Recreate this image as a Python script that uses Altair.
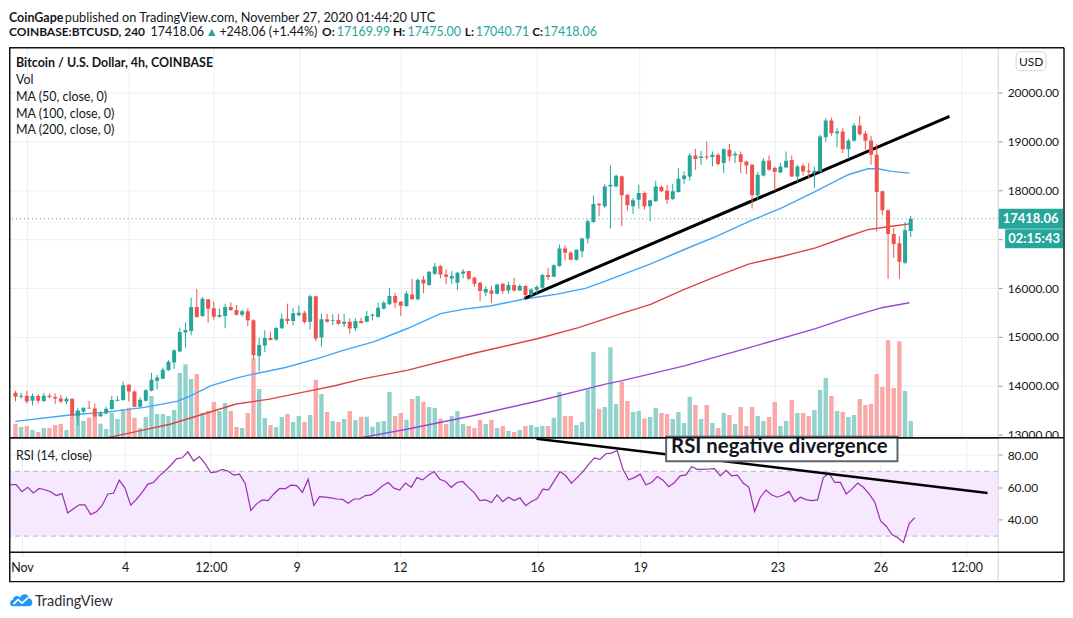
import altair as alt
import pandas as pd

# ---------------- data (4h candles, Oct 31 16:00 -> Nov 27 00:00 UTC) ----------------
opens = [13857, 13775, 13796, 13694, 13789, 13687, 13796, 13769, 13741, 13680,
         13735, 13374, 13476, 13551, 13537, 13374, 13435, 13524, 13694, 13707,
         14020, 13884, 13571, 13694, 13898, 14102, 14143, 14320, 14476, 14701,
         15088, 15122, 15612, 15429, 15769, 15585, 15415, 15429, 15612, 15551,
         15456, 15524, 15340, 14612, 14823, 14980, 14946, 15177, 15374, 15327,
         15442, 15497, 15313, 15830, 14986, 15361, 15333, 15347, 15272, 15313,
         15177, 15326, 15313, 15435, 15408, 15578, 15667, 15836, 15721, 15632,
         15870, 15769, 16177, 16061, 16292, 16449, 16279, 16197, 16109, 16292,
         16347, 16211, 16109, 15911, 15952, 15884, 16088, 15952, 16061, 15952,
         16041, 15857, 15966, 16007, 16265, 16231, 16449, 16809, 16721, 16578,
         16755, 17013, 17354, 17728, 17673, 18081, 18081, 18286, 17911, 17673,
         17809, 17946, 17673, 17775, 18068, 17993, 17823, 17966, 18231, 18285,
         18714, 18660, 18693, 18680, 18728, 18558, 18830, 18714, 18741, 18592,
         18523, 17898, 18306, 18612, 18455, 18367, 18469, 18619, 18285, 18503,
         18401, 18353, 18387, 19088, 19428, 19170, 19204, 18843, 19013, 19326,
         19163, 19020, 18728, 17979, 17591, 17108, 16918, 16517, 17169.99]
highs = [13898, 13857, 13898, 13844, 13830, 13857, 13844, 13844, 13816, 13775,
         13741, 13544, 13558, 13694, 13639, 13476, 13571, 13796, 13789, 14088,
         14034, 13911, 13762, 13932, 14265, 14224, 14374, 14524, 14742, 15190,
         15299, 15803, 15980, 15816, 15769, 15721, 15585, 15680, 15708, 15653,
         15558, 15585, 15361, 14986, 15136, 15109, 15204, 15476, 15680, 15585,
         15646, 15531, 15864, 15830, 15476, 15476, 15463, 15476, 15476, 15381,
         15381, 15394, 15530, 15476, 15701, 15734, 16007, 15905, 15734, 15938,
         16190, 16197, 16245, 16347, 16517, 16469, 16381, 16347, 16333, 16388,
         16347, 16238, 16129, 16034, 16048, 16088, 16102, 16129, 16211, 16075,
         16061, 15993, 16054, 16292, 16415, 16483, 16891, 16877, 16755, 16796,
         17027, 17401, 17898, 17741, 18129, 18510, 18320, 18299, 17925, 17843,
         18116, 17979, 17809, 18197, 18102, 18115, 18129, 18455, 18387, 18762,
         18850, 18809, 19000, 18796, 18762, 18864, 18952, 18796, 18796, 18605,
         18537, 18374, 18660, 18714, 18489, 18558, 18796, 18714, 18523, 18544,
         18558, 18489, 19136, 19476, 19489, 19272, 19272, 19054, 19374, 19523,
         19217, 19115, 18945, 17993, 17605, 17231, 17061, 17353, 17475.00]
lows = [13680, 13735, 13639, 13599, 13639, 13667, 13748, 13626, 13639, 13626,
        13354, 13190, 13435, 13531, 13354, 13367, 13422, 13503, 13680, 13694,
        13680, 13558, 13558, 13680, 13884, 13925, 14129, 14306, 14347, 14687,
        14782, 15034, 15395, 15408, 15293, 15354, 15395, 15177, 15531, 15435,
        15415, 15224, 14544, 14292, 14687, 14932, 14918, 15163, 15259, 15238,
        15422, 15272, 15150, 14918, 14803, 15293, 15245, 15245, 15204, 15068,
        15122, 15272, 15299, 15340, 15394, 15564, 15653, 15598, 15428, 15612,
        15762, 15748, 15898, 16048, 16265, 16197, 16075, 16088, 15959, 16197,
        16156, 16020, 15734, 15836, 15694, 15870, 15884, 15891, 15925, 15938,
        15802, 15789, 15884, 15993, 16163, 16224, 16435, 16564, 16571, 16564,
        16632, 16911, 17333, 17469, 17639, 17218, 18061, 17265, 17585, 17517,
        17626, 17605, 17367, 17762, 17966, 17721, 17802, 17952, 18129, 18197,
        18421, 18523, 18626, 18489, 18510, 18353, 18592, 18558, 18353, 18333,
        17626, 17809, 18285, 18401, 17993, 18353, 18469, 18272, 18183, 18306,
        18238, 18047, 18374, 18986, 19115, 18877, 18762, 18646, 19000, 19122,
        18830, 18523, 17163, 17489, 16190, 16619, 16190, 16496, 17040.71]
closes = [13775, 13796, 13680, 13789, 13694, 13796, 13769, 13741, 13680, 13735,
          13374, 13490, 13551, 13537, 13374, 13435, 13531, 13707, 13714, 14013,
          13884, 13571, 13714, 13911, 14122, 14170, 14327, 14490, 14728, 15102,
          15143, 15612, 15408, 15782, 15578, 15415, 15449, 15612, 15551, 15456,
          15524, 15340, 14626, 14837, 14980, 14939, 15184, 15374, 15327, 15483,
          15497, 15306, 15830, 14966, 15361, 15313, 15347, 15272, 15313, 15170,
          15327, 15286, 15428, 15456, 15598, 15701, 15836, 15701, 15639, 15891,
          15769, 16170, 16095, 16333, 16442, 16279, 16231, 16245, 16313, 16340,
          16190, 16088, 15938, 15980, 15884, 16075, 15938, 16061, 15952, 16041,
          15857, 15973, 16020, 16265, 16224, 16469, 16809, 16721, 16578, 16782,
          17013, 17367, 17721, 17694, 18081, 18116, 18299, 17898, 17694, 17796,
          17946, 17673, 17796, 18081, 17979, 17809, 17979, 18238, 18306, 18714,
          18639, 18693, 18673, 18728, 18537, 18843, 18693, 18748, 18578, 18510,
          17898, 18319, 18605, 18421, 18374, 18489, 18605, 18285, 18489, 18387,
          18374, 18401, 19102, 19428, 19170, 19204, 18843, 19020, 19326, 19149,
          19013, 18728, 17966, 17591, 17108, 16904, 16537, 17183, 17418.06]
volumes = [1400, 1070, 1170, 770, 570, 970, 970, 1270, 1370, 770,
           2070, 2730, 1670, 2000, 2330, 1400, 870, 2500, 1870, 2870,
           3000, 2000, 970, 2070, 4170, 2370, 2370, 2170, 2770, 6470,
           7370, 5870, 6370, 2500, 2670, 3570, 2670, 3470, 2670, 1070,
           970, 2470, 7970, 4870, 1970, 1270, 1070, 2070, 2370, 1570,
           2170, 1570, 2270, 5800, 4370, 2570, 1670, 1570, 1870, 2670,
           1770, 2100, 2100, 1100, 1570, 1670, 4570, 2170, 2470, 1800,
           3870, 4170, 3570, 3070, 2970, 1900, 1370, 2170, 2670, 1370,
           1170, 970, 1800, 1370, 1800, 970, 1170, 670, 570, 770,
           1170, 1270, 1070, 1170, 1170, 2000, 4570, 2170, 2170, 1270,
           1570, 4830, 8600, 2900, 3070, 9070, 3370, 5600, 3670, 2570,
           2670, 1930, 2070, 3000, 2470, 2370, 1870, 2570, 1470, 4070,
           3270, 1870, 3270, 1470, 970, 2470, 2270, 1370, 3070, 1170,
           3070, 2170, 1670, 2070, 3570, 1170, 1670, 3770, 2470, 2470,
           2170, 2770, 4770, 5970, 4170, 2670, 2570, 2070, 2270, 3870,
           3270, 3370, 6370, 5070, 9770, 4970, 9670, 4670, 1670]
rsi_values = [61.7, 61.7, 57.4, 60.1, 56.6, 59.4, 58.6, 57.4, 55.0, 56.2,
              44.2, 46.9, 49.3, 49.3, 43.4, 45.0, 48.9, 56.0, 56.4, 64.5,
              59.6, 49.1, 52.7, 57.0, 62.1, 63.1, 67.2, 70.2, 73.7, 77.7,
              78.3, 82.0, 76.3, 79.1, 74.7, 69.2, 69.6, 71.2, 70.2, 67.6,
              68.2, 62.5, 45.8, 49.9, 52.3, 51.9, 56.0, 59.4, 59.2, 61.5,
              61.1, 57.0, 65.1, 48.9, 54.4, 54.0, 53.6, 52.9, 52.7, 50.3,
              52.9, 52.9, 55.0, 55.4, 58.0, 61.1, 63.1, 59.6, 58.4, 62.7,
              60.1, 66.1, 64.7, 67.6, 69.8, 65.1, 63.7, 60.1, 63.1, 63.7,
              60.1, 56.8, 51.9, 52.3, 50.7, 55.4, 51.3, 54.0, 51.9, 53.6,
              48.8, 51.3, 53.0, 59.0, 58.6, 64.1, 69.8, 67.2, 62.7, 66.1,
              69.8, 74.3, 78.3, 77.3, 80.8, 81.2, 82.8, 71.2, 64.7, 66.1,
              68.2, 61.7, 63.1, 66.8, 64.5, 60.5, 63.1, 67.2, 67.8, 72.8,
              71.2, 71.2, 71.4, 71.6, 67.2, 70.6, 67.2, 67.6, 62.7, 60.1,
              45.2, 54.0, 58.4, 55.4, 54.0, 55.4, 57.6, 51.3, 54.0, 52.5,
              51.9, 52.3, 66.1, 68.8, 63.1, 63.1, 56.0, 59.0, 62.7, 60.1,
              56.0, 50.9, 39.3, 36.1, 31.0, 29.0, 26.1, 37.7, 41.4]

# moving averages (days since Nov 1 00:00 UTC, value)
ma50_day = [-0.34, 1.33, 2.29, 3.46, 4.41, 4.82, 5.40, 6.16, 6.65, 7.61, 8.59, 9.26, 10.22,
            11.21, 12.17, 12.83, 13.62, 14.63, 15.56, 16.43, 17.02, 17.48, 18.35, 19.34,
            20.30, 21.25, 22.24, 23.20, 24.16, 24.74, 25.03, 25.44, 25.96]
ma50_val = [13272, 13408, 13456, 13558, 13680, 13796, 14000, 14156, 14238, 14374, 14565, 14714, 14904,
            15177, 15476, 15564, 15632, 15775, 15870, 15993, 16143, 16265, 16496, 16789,
            17061, 17367, 17653, 17979, 18319, 18442, 18442, 18387, 18353]
ma100_day = [2.38, 3.25, 4.24, 5.20, 6.16, 7.14, 8.10, 9.06, 9.84, 11.21, 13.12, 15.07,
             16.23, 17.48, 18.35, 19.34, 20.30, 21.25, 22.24, 23.20, 24.16, 24.74, 25.44, 25.96]
ma100_val = [12940, 13068, 13218, 13422, 13626, 13728, 13864, 14000, 14136, 14320, 14660, 14973,
             15190, 15476, 15666, 15972, 16244, 16496, 16652, 16823, 17061, 17197, 17265, 17313]
ma200_day = [9.84, 11.21, 13.12, 15.07, 17.02, 17.48, 19.34, 21.25, 23.20, 24.16, 25.15, 25.96]
ma200_val = [12940, 13115, 13387, 13694, 14034, 14101, 14408, 14782, 15170, 15394, 15598, 15700]

trend_day = [14.64, 27.14]
trend_price = [15789, 19516]
rsi_trend_day = [14.98, 28.115]
rsi_trend_val = [90.1, 56.6]

tick_days = [0, 3, 5.5, 8, 11, 15, 18, 22, 25, 27.5]
price_ticks = [13000, 14000, 15000, 16000, 17000, 18000, 19000, 20000]
rsi_ticks = [40, 60, 80]
rsi_levels = [30, 70]
last_price = 17418.06

# ---------------- styling ----------------
FONT = "Lato"
TXT = "#131722"
UP, DOWN = "#26a69a", "#ef5350"
VUP, VDOWN = "#92d2cc", "#f8a9a8"
GRID = "#eceff3"
FRAME = "#111111"
SEP = "#d1d4dc"
W, PH, RH = 992, 391, 115
FR = 1058
BOT = 144.4

n = len(opens)
times = pd.date_range("2020-10-31 16:00", periods=n, freq="4h")
day = list((times - pd.Timestamp("2020-11-01")) / pd.Timedelta(days=1))
candles = pd.DataFrame({"day": day, "open": opens, "high": highs, "low": lows,
                        "close": closes, "volume": volumes, "rsi": rsi_values})

xs = alt.Scale(domain=[-0.3775, 28.426], nice=False, zero=False)
ps = alt.Scale(domain=[12938.8, 20918.4], nice=False, zero=False)
vs = alt.Scale(domain=[0, 39100], nice=False)
rs = alt.Scale(domain=[20, 90.75], nice=False, zero=False)

updown = alt.condition("datum.close >= datum.open", alt.value(UP), alt.value(DOWN))
vol_updown = alt.condition("datum.close >= datum.open", alt.value(VUP), alt.value(VDOWN))

x_price = alt.X("day:Q", scale=xs, axis=alt.Axis(values=tick_days, labels=False, ticks=False,
                                                   domain=False, grid=True, gridColor=GRID, title=None))
price_axis = alt.Axis(orient="right", values=price_ticks,
                      labelExpr="datum.value == 17000 ? '' : format(datum.value, '.2f')",
                      grid=True, gridColor=GRID, domain=False, ticks=True, tickSize=4,
                      tickColor="#9598a1", labelPadding=5, labelFont=FONT, labelFontSize=12,
                      labelColor=TXT, labelFlush=False, labelOverlap=False, title=None)


def py(field):
    return alt.Y(field, scale=ps, axis=price_axis)


ONE = pd.DataFrame({"k": [0]})


def label(text, x, y, size=12.5, weight="normal", color=TXT, align="left", baseline="alphabetic"):
    return alt.Chart(ONE).mark_text(text=text, align=align, baseline=baseline, font=FONT,
                                    fontSize=size, fontWeight=weight, color=color).encode(
        x=alt.value(x), y=alt.value(y))


def hline(y, x0, x1, color=FRAME, w=1.5):
    return alt.Chart(ONE).mark_rule(color=color, strokeWidth=w).encode(
        x=alt.value(x0), x2=alt.value(x1), y=alt.value(y))


def vline(x, y0, y1, color=FRAME, w=1.5):
    return alt.Chart(ONE).mark_rule(color=color, strokeWidth=w).encode(
        x=alt.value(x), y=alt.value(y0), y2=alt.value(y1))


# ---------------- price pane ----------------
vol = alt.Chart(candles).mark_bar(size=4.4, clip=True).encode(
    x=x_price, y=alt.Y("volume:Q", scale=vs, axis=None), color=vol_updown)


def ma_layer(days, vals, color):
    df = pd.DataFrame({"day": days, "value": vals})
    return alt.Chart(df).mark_line(color=color, strokeWidth=1.4, clip=True).encode(
        x=x_price, y=py("value:Q"))


ma50 = ma_layer(ma50_day, ma50_val, "#42a5f5")
ma100 = ma_layer(ma100_day, ma100_val, "#db4444")
ma200 = ma_layer(ma200_day, ma200_val, "#9c47d4")

trend = alt.Chart(pd.DataFrame({"day": trend_day, "price": trend_price})).mark_line(
    color="black", strokeWidth=3).encode(x=x_price, y=py("price:Q"))

wick = alt.Chart(candles).mark_rule(strokeWidth=1, clip=True).encode(
    x=x_price, y=py("low:Q"), y2="high:Q", color=updown)
body = alt.Chart(candles).mark_bar(size=4, clip=True).encode(
    x=x_price, y=py("open:Q"), y2="close:Q", color=updown)

last_df = pd.DataFrame({"price": [last_price]})
last_line = alt.Chart(last_df).mark_rule(color=UP, strokeDash=[1, 3], strokeWidth=1).encode(y=py("price:Q"))
tag1 = alt.Chart(last_df).mark_rect(color=UP, yOffset=-10, y2Offset=10).encode(
    x=alt.value(992), x2=alt.value(1057), y=py("price:Q"), y2="price:Q")
tag1_txt = alt.Chart(last_df).mark_text(align="center", baseline="middle", color="white",
                                        font=FONT, fontSize=13, fontWeight="bold").encode(
    x=alt.value(1024.5), y=py("price:Q"), text=alt.Text("price:Q", format=".2f"))
tag2 = alt.Chart(last_df).mark_rect(color=UP, yOffset=10.5, y2Offset=29.5).encode(
    x=alt.value(999), x2=alt.value(1057), y=py("price:Q"), y2="price:Q")
tag2_txt = alt.Chart(last_df).mark_text(align="center", baseline="middle", color="white", dy=20,
                                        font=FONT, fontSize=13, fontWeight="bold").encode(
    x=alt.value(1028), y=py("price:Q"), text=alt.value("02:15:43"))

usd_box = alt.Chart(ONE).mark_rect(fill="white", stroke=SEP, strokeWidth=1, cornerRadius=4).encode(
    x=alt.value(1010), x2=alt.value(1040), y=alt.value(4), y2=alt.value(23))
usd_txt = label("USD", 1025, 18, size=12, align="center")

H1, H2 = -26.3, -11.3
header = [
    hline(-38.7, 0, 4, color="white", w=0.5),   # head-room so the header text is not cropped
    label("CoinGape", 0, H1, weight="bold"),
    label("published on TradingView.com, November 27, 2020 01:44:20 UTC", 56, H1, size=12.8),
    label("COINBASE:BTCUSD, 240", 0, H2, size=12, weight="bold"),
    label("17418.06", 142, H2),
    label("\u25B2", 197, H2, size=12.5, color=UP),
    label("+248.06 (+1.44%)", 211, H2),
    label("O:", 314, H2, size=12, weight="bold"),
    label("17169.99", 328.7, H2, color=UP),
    label("H:", 385, H2, size=12, weight="bold"),
    label("17475.00", 399.7, H2, color=UP),
    label("L:", 457, H2, size=12, weight="bold"),
    label("17040.71", 468, H2, color=UP),
    label("C:", 524.7, H2, size=12, weight="bold"),
    label("17418.06", 536, H2, color=UP),
]
legend = [
    label("Bitcoin / U.S. Dollar, 4h, COINBASE", 7, 19.7, weight="bold"),
    label("Vol", 7, 36.7),
    label("MA (50, close, 0)", 7, 53.3),
    label("MA (100, close, 0)", 7, 70.3),
    label("MA (200, close, 0)", 7, 87.0),
]
price_frame = [
    vline(992, 0, PH, color=SEP, w=1),
    hline(0, 0, FR), vline(0.75, 0, PH), vline(FR, 0, PH), hline(PH, 0, FR),
]

inner = alt.layer(ma200, ma100, ma50, trend, wick, body, last_line, tag1, tag1_txt, tag2, tag2_txt,
                  usd_box, usd_txt, *header, *legend, *price_frame)
price = alt.layer(vol, inner).resolve_scale(y="independent").properties(width=W, height=PH)

# ---------------- RSI pane ----------------
x_rsi = alt.X("day:Q", scale=xs, axis=alt.Axis(
    values=tick_days,
    labelExpr="datum.value == 0 ? 'Nov' : (datum.value % 1 != 0 ? '12:00' : format(datum.value + 1, 'd'))",
    grid=True, gridColor=GRID, domain=False, ticks=True, tickSize=4, tickColor="#dfe2e8",
    labelPadding=5, labelFont=FONT, labelFontSize=12.5, labelColor=TXT,
    labelFlush=False, labelOverlap=False, title=None))
rsi_axis = alt.Axis(orient="right", values=rsi_ticks, format=".2f", grid=True, gridColor=GRID,
                    domain=False, ticks=True, tickSize=4, tickColor="#9598a1", labelPadding=5,
                    labelFont=FONT, labelFontSize=12, labelColor=TXT, labelFlush=False, title=None)


def ry(field):
    return alt.Y(field, scale=rs, axis=rsi_axis)


band = alt.Chart(pd.DataFrame({"lo": [rsi_levels[0]], "hi": [rsi_levels[1]]})).mark_rect(
    color="#f5e8ff").encode(x=alt.value(0), x2=alt.value(W), y=ry("lo:Q"), y2="hi:Q")
levels = alt.Chart(pd.DataFrame({"level": rsi_levels})).mark_rule(
    color="#b2b5be", strokeDash=[5, 4], strokeWidth=1).encode(y=ry("level:Q"))
rsi_line = alt.Chart(candles).mark_line(color="#9b2fae", strokeWidth=1.2).encode(
    x=x_rsi, y=ry("rsi:Q"))
rsi_trend = alt.Chart(pd.DataFrame({"day": rsi_trend_day, "rsi": rsi_trend_val})).mark_line(
    color="black", strokeWidth=2.5).encode(x=x_rsi, y=ry("rsi:Q"))

note_box = alt.Chart(ONE).mark_rect(fill="white", stroke="#5d6670", strokeWidth=2).encode(
    x=alt.value(659), x2=alt.value(891), y=alt.value(-1), y2=alt.value(23.7))
note_txt = label("RSI negative divergence", 664, 15.2, size=20.4, weight="bold")
rsi_title = label("RSI (14, close)", 7, 22)
cover = alt.Chart(ONE).mark_rect(color="white").encode(
    x=alt.value(993), x2=alt.value(1057), y=alt.value(0), y2=alt.value(12))

CLOUD = ("M-0.72,0.55 C-1.05,0.55 -1.1,0.05 -0.75,-0.02 C-0.72,-0.38 -0.3,-0.45 -0.12,-0.2 "
         "C0.02,-0.62 0.62,-0.6 0.66,-0.12 C1.02,-0.1 1.05,0.55 0.7,0.55 Z")
ZIG = "M-0.7,0.38 L-0.3,-0.02 L0.05,0.28 L0.6,-0.22"
cloud = alt.Chart(ONE).mark_point(shape=CLOUD, size=529, filled=True, color="#2196f3", opacity=1).encode(
    x=alt.value(12.5), y=alt.value(162.7))
zig = alt.Chart(ONE).mark_point(shape=ZIG, size=529, filled=False, color="white", strokeWidth=1.8,
                                opacity=1).encode(x=alt.value(12.5), y=alt.value(162.7))
tv_txt = label("TradingView", 26, 168.7, size=14.5, color="#2a2e39")

rsi_frame = [
    vline(992, 0, BOT, color=SEP, w=1),
    vline(0.75, 0, BOT), vline(FR, 0, BOT),
    hline(0, 0, FR), hline(RH, 0, FR), hline(BOT, 0, FR),
]

rsi = alt.layer(band, levels, rsi_line, rsi_trend, note_box, note_txt, rsi_title, cover,
                cloud, zig, tv_txt, *rsi_frame).properties(width=W, height=RH)

chart = alt.vconcat(price, rsi, spacing=0, bounds="flush").properties(
    padding=0, background="white").configure_view(stroke=None)

chart.save("out.html", embed_options={"renderer": "svg", "actions": False})
